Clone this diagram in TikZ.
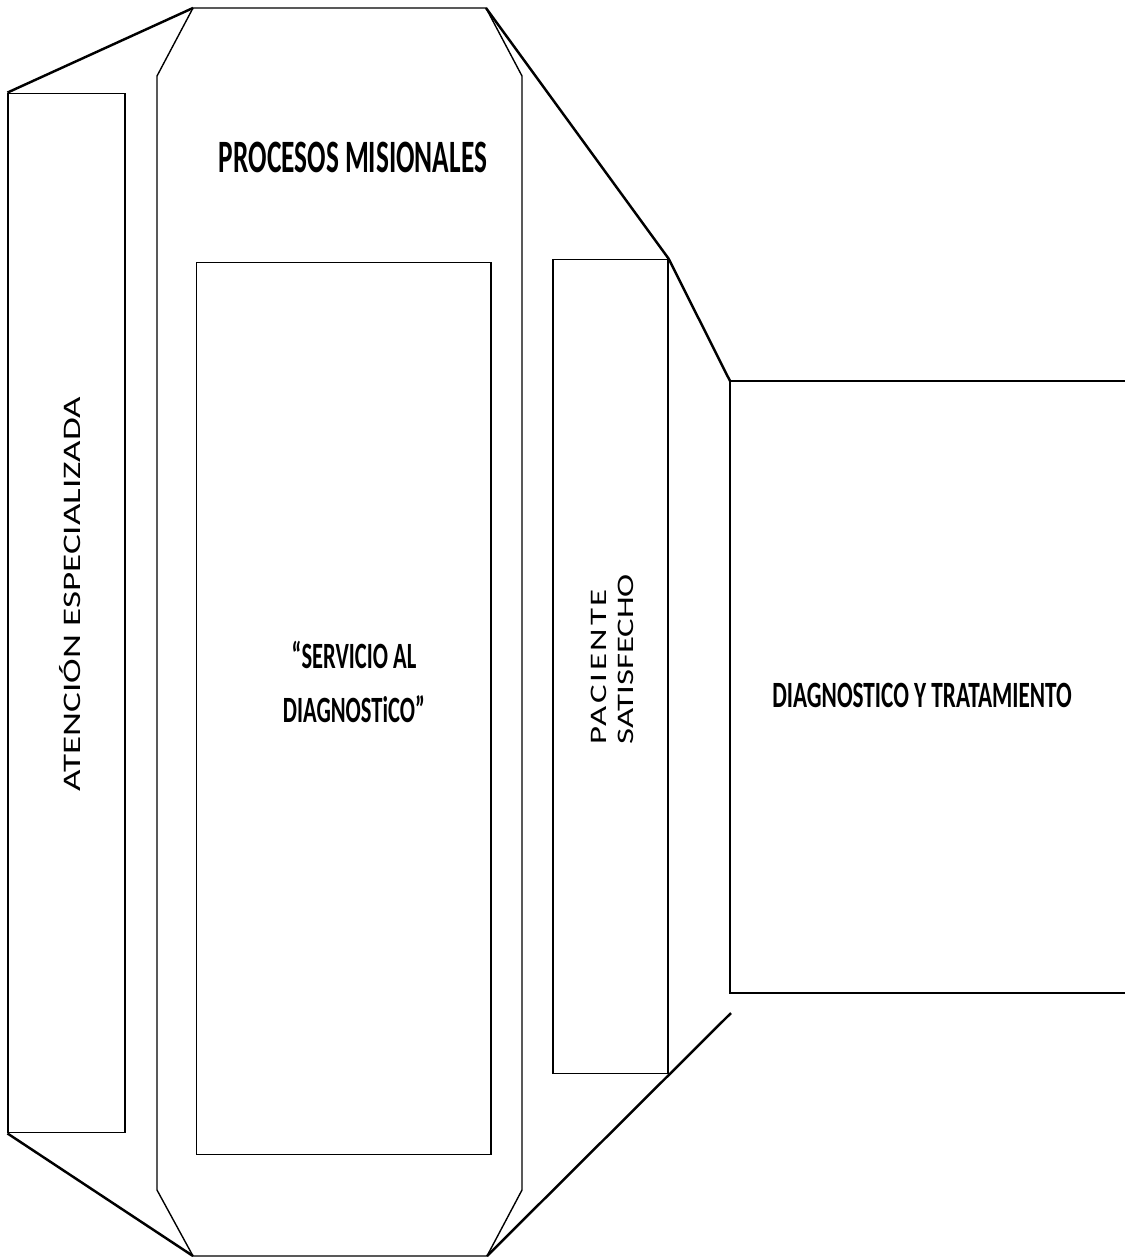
\documentclass[tikz,border=0pt]{standalone}
\usepackage{fontspec}
\setmainfont{Carlito}
\usepackage{tikz}

\tikzset{
  boxline/.style={draw,line width=0.6pt,inner sep=0pt},
  octline/.style={line width=0.8pt,line join=miter},
  foldline/.style={line width=1.4pt},
  bigtitle/.style={font=\bfseries\fontsize{21.1}{30.6}\selectfont,xscale=0.62,align=center,inner sep=0pt},
  sidetitle/.style={rotate=90,yscale=0.68,align=left,inner sep=0pt}
}

\begin{document}
\begin{tikzpicture}[x=0.02cm,y=-0.02cm]
\useasboundingbox (0,0) rectangle (1125,1257);
% octagon corners
\coordinate (ot1) at (193,8);
\coordinate (ot2) at (486,8);
\coordinate (or1) at (522,76);
\coordinate (or2) at (522,1190);
\coordinate (ob2) at (487,1256);
\coordinate (ob1) at (193,1256);
\coordinate (ol2) at (157,1190);
\coordinate (ol1) at (157,76);
\draw[octline] (ot1) -- (ot2) -- (or1) -- (or2) -- (ob2) -- (ob1) -- (ol2) -- (ol1) -- cycle;

% boxes
\node[boxline,minimum width=2.34cm,minimum height=20.8cm] (aten) at (66.5,613) {};
\node[boxline,minimum width=5.9cm,minimum height=17.86cm] (serv) at (343.5,708.5) {};
\node[boxline,minimum width=2.3cm,minimum height=16.3cm] (paci) at (610.5,666.5) {};
\coordinate (dt1) at (730,381);
\coordinate (dt2) at (1125,381);
\coordinate (db1) at (730,993);
\coordinate (db2) at (1125,993);
\draw[line width=0.6pt] (dt2) -- (dt1) -- (db1) -- (db2);
\coordinate (lowend) at (731,1013);

% folds
\draw[foldline] (aten.north west) -- (ot1);
\draw[foldline] (aten.south west) -- (ob1);
\draw[foldline] (ot2) -- (paci.north east) -- (dt1);
\draw[foldline] (lowend) -- (ob2);

% texts
\node[bigtitle,font=\bfseries\fontsize{26.4}{30}\selectfont,xscale=0.95] (proc) at (353,157) {PROCESOS MISIONALES};
\node[bigtitle,font=\bfseries\fontsize{21.1}{30.6}\selectfont,xscale=0.98] (servtxt) at (354,682) {“SERVICIO AL\\DIAGNOSTiCO”};
\node[bigtitle,xscale=1.01] (diagtxt) at (922,695) {DIAGNOSTICO Y TRATAMIENTO};
\node[sidetitle,font=\fontsize{21.1}{25}\selectfont] (atentxt) at (70,594) {ATENCIÓN ESPECIALIZADA};
\node[sidetitle,anchor=west,font=\fontsize{19.8}{22.5}\selectfont] (pacitxt) at (612,745) {{\addfontfeatures{LetterSpace=8}PACIENTE}\\SATISFECHO};
\end{tikzpicture}
\end{document}
